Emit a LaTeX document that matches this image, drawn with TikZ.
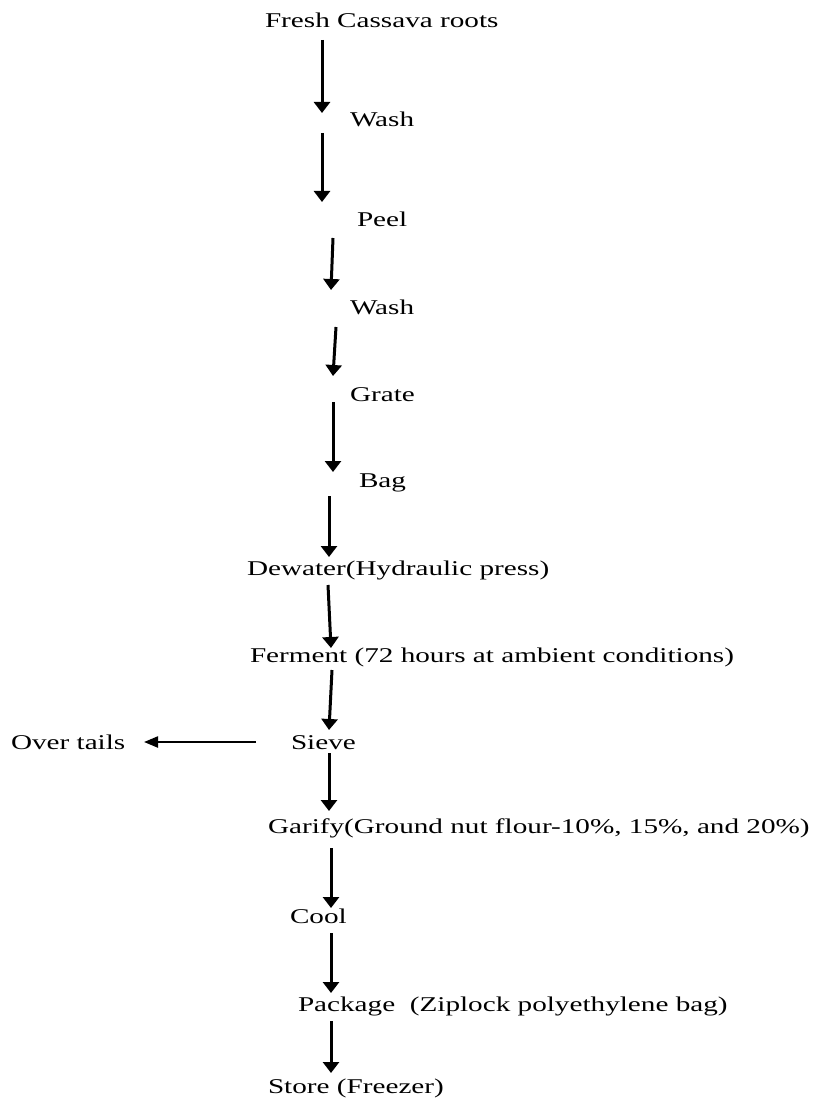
\documentclass[tikz,border=0pt]{standalone}
\usepackage{fontspec}
\setmainfont{Liberation Serif}[FakeStretch=1.39]
\usetikzlibrary{arrows.meta}
\tikzset{
  lbl/.style={anchor=base west, inner sep=0pt, outer sep=0pt, font=\fontsize{21}{25}\selectfont},
  down/.style={line width=3pt, -{Triangle[length=11pt,width=16pt]}},
  side/.style={line width=2.2pt, -{Triangle[length=14pt,width=11pt]}}
}
\begin{document}
\begin{tikzpicture}[x=1pt,y=-1pt]
\useasboundingbox (0,0) rectangle (814,1099);
% texts
\node[lbl] (fresh) at (265,28) {Fresh Cassava roots};
\node[lbl] (wash1) at (350,127) {Wash};
\node[lbl] (peel) at (357,226) {Peel};
\node[lbl] (wash2) at (350,314) {Wash};
\node[lbl] (grate) at (350,401) {Grate};
\node[lbl] (bag) at (359,487) {Bag};
\node[lbl] (dewater) at (247,575) {Dewater(Hydraulic press)};
\node[lbl] (ferment) at (250,662) {Ferment (72 hours at ambient conditions)};
\node[lbl] (sieve) at (291,749) {Sieve};
\node[lbl] (over) at (11,749) {Over tails};
\node[lbl] (garify) at (268,833) {Garify(Ground nut flour-10\%, 15\%, and 20\%)};
\node[lbl] (cool) at (290,923) {Cool};
\node[lbl] (package) at (298,1011) {Package\ \ (Ziplock polyethylene bag)};
\node[lbl] (store) at (268,1093) {Store (Freezer)};
% arrow end points
\coordinate (a1s) at (322,40);   \coordinate (a1e) at (322,113);
\coordinate (a2s) at (322,133);  \coordinate (a2e) at (322,202);
\coordinate (a3s) at (333,238);  \coordinate (a3e) at (331,290);
\coordinate (a4s) at (336,327);  \coordinate (a4e) at (333,376);
\coordinate (a5s) at (333,402);  \coordinate (a5e) at (333,472);
\coordinate (a6s) at (329,496);  \coordinate (a6e) at (329,557);
\coordinate (a7s) at (328,585);  \coordinate (a7e) at (331,648);
\coordinate (a8s) at (332,670);  \coordinate (a8e) at (329,730);
\coordinate (a9s) at (329,753);  \coordinate (a9e) at (329,811);
\coordinate (a10s) at (331,848); \coordinate (a10e) at (331,908);
\coordinate (a11s) at (331,933); \coordinate (a11e) at (331,993);
\coordinate (a12s) at (331,1021); \coordinate (a12e) at (331,1073);
\coordinate (ls) at (256,742);   \coordinate (le) at (144,742);
% arrows
\draw[down] (a1s) -- (a1e);
\draw[down] (a2s) -- (a2e);
\draw[down] (a3s) -- (a3e);
\draw[down] (a4s) -- (a4e);
\draw[down] (a5s) -- (a5e);
\draw[down] (a6s) -- (a6e);
\draw[down] (a7s) -- (a7e);
\draw[down] (a8s) -- (a8e);
\draw[down] (a9s) -- (a9e);
\draw[down] (a10s) -- (a10e);
\draw[down] (a11s) -- (a11e);
\draw[down] (a12s) -- (a12e);
\draw[side] (ls) -- (le);
\end{tikzpicture}
\end{document}
